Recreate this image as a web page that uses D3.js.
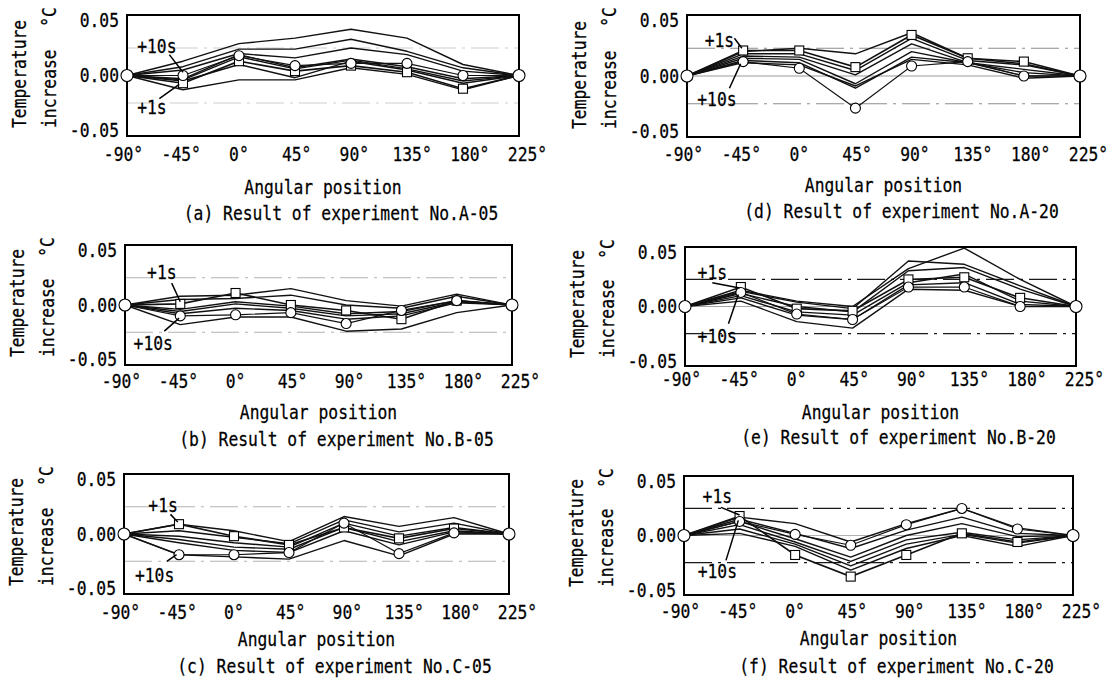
<!DOCTYPE html>
<html>
<head>
<meta charset="utf-8">
<script src="https://cdn.jsdelivr.net/npm/d3@7"></script>
<style>
  body { margin: 0; background: #fff; }
  text { font-family: "DejaVu Sans Mono", monospace; font-size: 19px; fill: #000; stroke: #000; stroke-width: 0.25px; }
</style>
</head>
<body>
<script>
"use strict";

// angular positions and labels
var angles = [-90, -45, 0, 45, 90, 135, 180, 225];
var angleLabels = ["-90°", "-45°", "0°", "45°", "90°", "135°", "180°", "225°"];
var yTicks = [0.05, 0, -0.05];
var bandValues = [0.025, -0.025];

var captions = [
	"(a)  Result of experiment No.A-05",
	"(b)  Result of experiment No.B-05",
	"(c)  Result of experiment No.C-05",
	"(d)  Result of experiment No.A-20",
	"(e)  Result of experiment No.B-20",
	"(f)  Result of experiment No.C-20"
];

// A-05
var onesA05 = [0, -0.007, 0.013, 0.004, 0.009, 0.003, -0.012, 0];
var tensA05 = [0, 0.000, 0.018, 0.009, 0.011, 0.011, 0.000, 0];
var seriesA05 = [
	[0, 0.013, 0.029, 0.034, 0.042, 0.034, 0.010, 0],
	[0, 0.008, 0.024, 0.024, 0.033, 0.022, 0.007, 0],
	[0, 0.005, 0.020, 0.016, 0.025, 0.019, 0.004, 0],
	[0, -0.003, 0.019, 0.007, 0.015, 0.008, -0.003, 0],
	[0, -0.004, 0.017, 0.006, 0.014, 0.006, -0.005, 0],
	[0, -0.005, 0.010, -0.002, 0.013, 0.005, -0.007, 0],
	[0, -0.013, -0.004, -0.004, 0.007, 0.001, -0.013, 0]
];

// B-05
var onesB05 = [0, 0.001, 0.011, 0.000, -0.005, -0.013, 0.004, 0];
var tensB05 = [0, -0.010, -0.009, -0.007, -0.017, -0.005, 0.004, 0];
var seriesB05 = [
	[0, 0.008, 0.009, 0.015, 0.004, -0.001, 0.010, 0],
	[0, 0.005, 0.006, 0.009, 0.000, -0.003, 0.008, 0],
	[0, -0.004, 0.003, -0.001, -0.008, -0.006, 0.004, 0],
	[0, -0.006, 0.001, -0.003, -0.010, -0.008, 0.003, 0],
	[0, -0.008, -0.003, -0.005, -0.013, -0.010, 0.002, 0],
	[0, -0.018, -0.011, -0.011, -0.024, -0.022, -0.007, 0]
];

// C-05
var onesC05 = [0, 0.009, -0.002, -0.010, 0.006, -0.004, 0.005, 0];
var tensC05 = [0, -0.019, -0.019, -0.017, 0.010, -0.018, 0.001, 0];
var seriesC05 = [
	[0, 0.009, 0.003, -0.007, 0.016, 0.007, 0.015, 0],
	[0, 0.003, -0.003, -0.009, 0.013, 0.002, 0.010, 0],
	[0, -0.002, -0.008, -0.012, 0.010, -0.002, 0.006, 0],
	[0, -0.005, -0.012, -0.014, 0.006, -0.007, 0.003, 0],
	[0, -0.008, -0.015, -0.017, 0.003, -0.010, 0.002, 0],
	[0, -0.019, -0.021, -0.023, -0.006, -0.020, 0.000, 0]
];

// A-20
var onesA20 = [0, 0.023, 0.023, 0.008, 0.037, 0.016, 0.013, 0];
var tensA20 = [0, 0.013, 0.007, -0.029, 0.009, 0.013, 0.000, 0];
var seriesA20 = [
	[0, 0.022, 0.025, 0.020, 0.039, 0.016, 0.011, 0],
	[0, 0.020, 0.020, 0.005, 0.034, 0.014, 0.010, 0],
	[0, 0.018, 0.017, 0.001, 0.029, 0.012, 0.006, 0],
	[0, 0.016, 0.015, -0.007, 0.022, 0.012, 0.003, 0],
	[0, 0.014, 0.012, -0.011, 0.017, 0.012, 0.000, 0],
	[0, 0.012, 0.010, -0.009, 0.015, 0.010, -0.002, 0]
];

// B-20
var onesB20 = [0, 0.018, -0.002, -0.004, 0.025, 0.027, 0.008, 0];
var tensB20 = [0, 0.013, -0.007, -0.012, 0.018, 0.018, 0.000, 0];
var seriesB20 = [
	[0, 0.015, 0.005, 0.000, 0.035, 0.054, 0.025, 0],
	[0, 0.014, 0.004, -0.002, 0.042, 0.039, 0.019, 0],
	[0, 0.012, 0.000, -0.005, 0.033, 0.036, 0.016, 0],
	[0, 0.010, -0.005, -0.008, 0.022, 0.030, 0.005, 0],
	[0, 0.008, -0.008, -0.012, 0.020, 0.022, 0.002, 0],
	[0, 0.005, -0.014, -0.020, 0.016, 0.015, 0.000, 0]
];

// C-20
var onesC20 = [0, 0.018, -0.018, -0.038, -0.018, 0.002, -0.006, 0];
var tensC20 = [0, 0.013, 0.001, -0.009, 0.010, 0.025, 0.006, 0];
var seriesC20 = [
	[0, 0.017, 0.011, -0.006, 0.011, 0.025, 0.007, 0],
	[0, 0.015, 0.002, -0.012, 0.005, 0.017, 0.002, 0],
	[0, 0.013, -0.003, -0.020, 0.000, 0.011, -0.001, 0],
	[0, 0.010, -0.006, -0.024, -0.004, 0.003, -0.004, 0],
	[0, 0.006, -0.008, -0.028, -0.008, 0.001, -0.007, 0],
	[0, 0.002, -0.010, -0.032, -0.012, 0.000, -0.010, 0]
];

var panels = [
	{ caption: captions[0], lines: seriesA05, ones: onesA05, tens: tensA05 },
	{ caption: captions[1], lines: seriesB05, ones: onesB05, tens: tensB05 },
	{ caption: captions[2], lines: seriesC05, ones: onesC05, tens: tensC05 },
	{ caption: captions[3], lines: seriesA20, ones: onesA20, tens: tensA20 },
	{ caption: captions[4], lines: seriesB20, ones: onesB20, tens: tensB20 },
	{ caption: captions[5], lines: seriesC20, ones: onesC20, tens: tensC20 }
];

// layout: plot box, text rows, band darkness, "+1s"/"+10s" call-outs (in data units)
var layout = [
	{ l: 127, r: 519, t: 15, b: 136, tickY: 155, axisY: 188, capY: 214, band: 0.2, zero: 0,
	  notes: [["+10s", -66, 0.026, -56, 0.019, -45, 0.003], ["+1s", -70, -0.029, -64, -0.021, -48, -0.008]] },
	{ l: 125, r: 512, t: 245, b: 365, tickY: 382, axisY: 413, capY: 440, band: 0.3, zero: 0,
	  notes: [["+1s", -60, 0.030, -52, 0.020, -45, 0.003], ["+10s", -67, -0.035, -58, -0.024, -46, -0.012]] },
	{ l: 124, r: 509, t: 474, b: 594, tickY: 613, axisY: 640, capY: 667, band: 0.3, zero: 0,
	  notes: [["+1s", -58, 0.026, -52, 0.018, -46, 0.011], ["+10s", -65, -0.038, -55, -0.025, -47, -0.019]] },
	{ l: 687, r: 1080, t: 15, b: 137, tickY: 155, axisY: 186, capY: 212, band: 0.45, zero: 0.4,
	  notes: [["+1s", -64, 0.032, -52, 0.034, -46, 0.025], ["+10s", -66, -0.021, -56, -0.011, -47, 0.011]] },
	{ l: 685, r: 1076, t: 247, b: 366, tickY: 380, axisY: 413, capY: 438, band: 0.9, zero: 0.35,
	  notes: [["+1s", -68, 0.031, -68, 0.022, -46, 0.017], ["+10s", -64, -0.028, -55, -0.016, -47, 0.011]] },
	{ l: 684, r: 1073, t: 476, b: 595, tickY: 612, axisY: 639, capY: 667, band: 0.9, zero: 0.3,
	  notes: [["+1s", -63, 0.036, -60, 0.026, -45, 0.019], ["+10s", -63, -0.033, -56, -0.023, -46, 0.014]] }
];

// the original lettering is a narrow gothic face, so squeeze the mono font
var SQUEEZE = "scale(0.86,1)";

var svg = d3.select("body").append("svg")
	.attr("width", 1113)
	.attr("height", 683);

svg.append("rect").attr("width", 1113).attr("height", 683).attr("fill", "#fff");

function label(g, x, y, txt, anchor, rotate) {
	return g.append("text")
		.attr("transform", "translate(" + x + "," + y + ")" + (rotate ? " rotate(-90)" : "") + " " + SQUEEZE)
		.attr("text-anchor", anchor || "start")
		.attr("dominant-baseline", "central")
		.text(txt);
}

function drawPanel(p, L) {
	var g = svg.append("g");

	var x = d3.scaleLinear().domain([-90, 225]).range([L.l, L.r]);
	var xLab = d3.scaleLinear().domain([-90, 225]).range([L.l - 4, L.r + 8]);
	var y = d3.scaleLinear().domain([-0.055, 0.055]).range([L.b, L.t]);

	// dash-dot bands at +-0.025 and faint zero line
	g.selectAll(".band").data(bandValues).enter().append("line")
		.attr("x1", L.l).attr("x2", L.r)
		.attr("y1", function(d) { return y(d); })
		.attr("y2", function(d) { return y(d); })
		.attr("stroke", "#000")
		.attr("stroke-opacity", L.band)
		.attr("stroke-width", 1.2)
		.attr("stroke-dasharray", "28,6,3,6");

	if (L.zero > 0) {
		g.append("line")
			.attr("x1", L.l).attr("x2", L.r)
			.attr("y1", y(0)).attr("y2", y(0))
			.attr("stroke", "#000")
			.attr("stroke-opacity", L.zero)
			.attr("stroke-width", 1);
	}

	var line = d3.line()
		.x(function(d, i) { return x(angles[i]); })
		.y(function(d) { return y(d); });

	g.selectAll(".series").data(p.lines).enter().append("path")
		.attr("d", line)
		.attr("fill", "none")
		.attr("stroke", "#111")
		.attr("stroke-width", 1.4)
		.attr("stroke-linejoin", "round");

	g.append("path").attr("d", line(p.ones))
		.attr("fill", "none").attr("stroke", "#111").attr("stroke-width", 1.6);
	g.append("path").attr("d", line(p.tens))
		.attr("fill", "none").attr("stroke", "#111").attr("stroke-width", 1.2);

	// frame
	g.append("rect")
		.attr("x", L.l).attr("y", L.t)
		.attr("width", L.r - L.l).attr("height", L.b - L.t)
		.attr("fill", "none")
		.attr("stroke", "#000")
		.attr("stroke-width", 2);

	// +1s squares, +10s circles (interior points)
	var inner = d3.range(1, angles.length - 1);
	g.selectAll(".sq").data(inner).enter().append("rect")
		.attr("x", function(i) { return x(angles[i]) - 4.5; })
		.attr("y", function(i) { return y(p.ones[i]) - 4.5; })
		.attr("width", 9).attr("height", 9)
		.attr("fill", "#fff").attr("stroke", "#000").attr("stroke-width", 1.1);
	g.selectAll(".ci").data(inner).enter().append("circle")
		.attr("cx", function(i) { return x(angles[i]); })
		.attr("cy", function(i) { return y(p.tens[i]); })
		.attr("r", 5)
		.attr("fill", "#fff").attr("stroke", "#000").attr("stroke-width", 1.1);

	// end points shared by every series
	g.selectAll(".end").data([0, angles.length - 1]).enter().append("circle")
		.attr("cx", function(i) { return x(angles[i]); })
		.attr("cy", function(i) { return y(p.tens[i]); })
		.attr("r", 6)
		.attr("fill", "#fff").attr("stroke", "#000").attr("stroke-width", 1.1);

	// call-outs
	L.notes.forEach(function(n) {
		g.append("line")
			.attr("x1", x(n[3])).attr("y1", y(n[4]))
			.attr("x2", x(n[5])).attr("y2", y(n[6]))
			.attr("stroke", "#000").attr("stroke-width", 1.5);
		label(g, x(n[1]), y(n[2]), n[0], "middle");
	});

	// y axis labels
	var yAxis = g.append("g")
		.attr("transform", "translate(" + (L.l - 8) + ",0)")
		.call(d3.axisLeft(y).tickValues(yTicks).tickSize(0).tickPadding(0)
			.tickFormat(function(d) { return d.toFixed(2); }));
	yAxis.select(".domain").remove();
	yAxis.selectAll("text").attr("x", 0).attr("dy", null)
		.attr("dominant-baseline", "central").attr("transform", SQUEEZE);

	// x axis labels
	var xAxis = g.append("g")
		.attr("transform", "translate(0," + L.tickY + ")")
		.call(d3.axisBottom(xLab).tickValues(angles).tickSize(0).tickPadding(0)
			.tickFormat(function(d, i) { return angleLabels[i]; }));
	xAxis.select(".domain").remove();
	xAxis.selectAll("text").attr("y", 0).attr("dy", null)
		.attr("dominant-baseline", "central").attr("transform", SQUEEZE);

	// titles
	label(g, (L.l + L.r) / 2, L.axisY, "Angular position", "middle");
	label(g, (L.l + L.r) / 2 + 18, L.capY, p.caption, "middle");

	label(g, L.l - 107, L.b - 8, "Temperature", "start", true);
	label(g, L.l - 77, L.b - 8, "increase", "start", true);
	label(g, L.l - 77, L.t + 2, "°C", "middle", true);
}

panels.forEach(function(p, i) { drawPanel(p, layout[i]); });
</script>
</body>
</html>
